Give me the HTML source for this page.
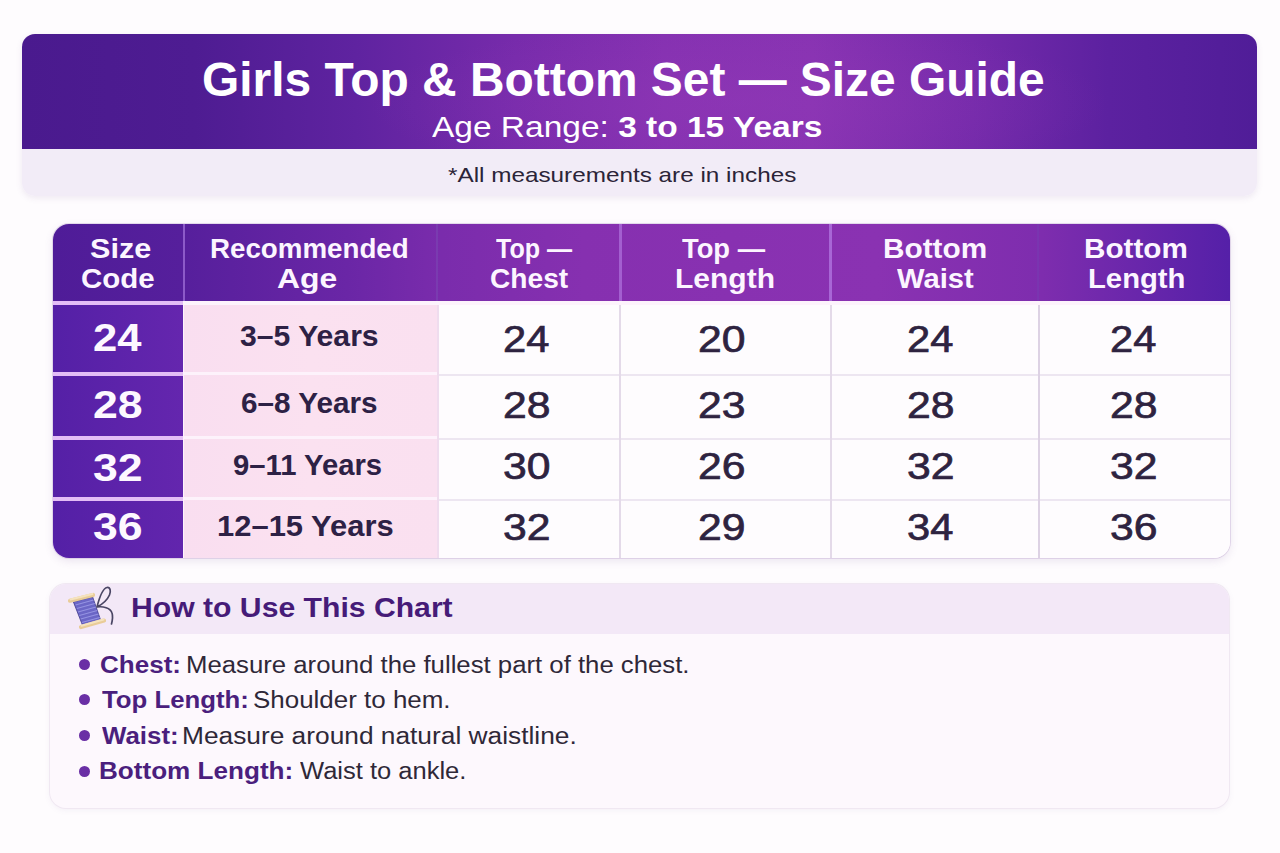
<!DOCTYPE html>
<html><head><meta charset="utf-8">
<style>
html,body{margin:0;padding:0}
body{width:1280px;height:853px;overflow:hidden;position:relative;background:#fefcfe;font-family:"Liberation Sans",sans-serif}
.abs{position:absolute}
.tx{position:absolute;white-space:nowrap;line-height:1;transform-origin:0 0}
.tx b{font-weight:700}
</style></head><body>
<!-- header card -->
<div class="abs" style="left:22px;top:34px;width:1235px;height:162px;border-radius:13px;overflow:hidden;box-shadow:0 2px 6px rgba(120,90,150,0.12)">
  <div class="abs" style="left:0;top:0;width:1235px;height:115px;background:radial-gradient(ellipse 30% 70% at 58% 60%,rgba(150,60,185,0.35),rgba(150,60,185,0) 100%),linear-gradient(90deg,#4a1a8e 0%,#4e1c92 14%,#5f23a0 27%,#772bab 40%,#8531b1 52%,#8833b2 64%,#742aaa 77%,#5c21a0 88%,#501d98 100%)"></div>
  <div class="abs" style="left:0;top:115px;width:1235px;height:47px;background:#f2ecf7"></div>
</div>
<!-- table -->
<div class="abs" style="left:53px;top:224px;width:1177px;height:334px;border-radius:16px;overflow:hidden;background:#fdf3fc;box-shadow:0 0 0 1px rgba(200,180,215,0.45),0 3px 8px rgba(110,80,150,0.14)">
  <div class="abs" style="left:0;top:0;width:1177px;height:77px;background:linear-gradient(90deg,#4f1c98 0%,#561f9c 11%,#6a26a6 25%,#7a2cac 33%,#8630b0 45%,#8a32b2 70%,#7e2dae 84%,#5520a8 100%)"></div>
  <div class="abs" style="left:0;top:77px;width:130px;height:4px;background:#e3bdf6"></div>
  <!-- header dividers -->
  <div class="abs" style="left:130px;top:0;width:2px;height:77px;background:#8c5ac8"></div>
  <div class="abs" style="left:383px;top:0;width:2px;height:77px;background:#7a3bb0"></div>
  <div class="abs" style="left:566px;top:0;width:3px;height:77px;background:#a35fd0"></div>
  <div class="abs" style="left:776px;top:0;width:3px;height:77px;background:#a866d6"></div>
  <div class="abs" style="left:984px;top:0;width:2px;height:77px;background:#7a35b0"></div>
  <!-- size code col -->
  <div class="abs" style="left:0;top:77px;width:130px;height:257px;background:#e3bdf6"></div>
  <div class="abs" style="left:0;top:81px;width:130px;height:67px;background:linear-gradient(90deg,#5420a6,#6526ae)"></div>
  <div class="abs" style="left:0;top:152px;width:130px;height:60px;background:linear-gradient(90deg,#5520a6,#6426ae)"></div>
  <div class="abs" style="left:0;top:216px;width:130px;height:57px;background:linear-gradient(90deg,#5520a6,#6426ae)"></div>
  <div class="abs" style="left:0;top:277px;width:130px;height:57px;background:linear-gradient(90deg,#5420a6,#6225ad)"></div>
  <!-- age col -->
  <div class="abs" style="left:131px;top:81px;width:253px;height:253px;background:linear-gradient(90deg,#f9def0 0%,#fbe1f0 50%,#fae0f0 100%)"></div>
  <div class="abs" style="left:131px;top:148px;width:253px;height:3px;background:#fdf2fb"></div>
  <div class="abs" style="left:131px;top:212px;width:253px;height:3px;background:#fdf2fb"></div>
  <div class="abs" style="left:131px;top:273px;width:253px;height:3px;background:#fdf2fb"></div>
  <!-- data -->
  <div class="abs" style="left:384px;top:81px;width:793px;height:253px;background:#fefcfe"></div>
  <div class="abs" style="left:384px;top:150px;width:793px;height:1.5px;background:#ede6f1"></div>
  <div class="abs" style="left:384px;top:214px;width:793px;height:1.5px;background:#ede6f1"></div>
  <div class="abs" style="left:384px;top:275px;width:793px;height:1.5px;background:#ede6f1"></div>
  <div class="abs" style="left:384px;top:81px;width:1.5px;height:253px;background:#efdcee"></div>
  <div class="abs" style="left:566px;top:81px;width:2px;height:253px;background:#e4dae9"></div>
  <div class="abs" style="left:777px;top:81px;width:2px;height:253px;background:#e4dae9"></div>
  <div class="abs" style="left:985px;top:81px;width:2px;height:253px;background:#ddd2e4"></div>
</div>
<!-- how to card -->
<div class="abs" style="left:50px;top:584px;width:1179px;height:224px;border-radius:16px;overflow:hidden;background:#fdf8fd;box-shadow:0 0 0 1px #f0e8f2,0 2px 6px rgba(120,90,150,0.08)">
  <div class="abs" style="left:0;top:0;width:1179px;height:50px;background:#f3e8f7"></div>
</div>
<!-- bullets -->
<div class="abs" style="left:79px;top:659px;width:11px;height:11px;border-radius:50%;background:#6a2fa5"></div>
<div class="abs" style="left:79px;top:694px;width:11px;height:11px;border-radius:50%;background:#6a2fa5"></div>
<div class="abs" style="left:79px;top:730px;width:11px;height:11px;border-radius:50%;background:#6a2fa5"></div>
<div class="abs" style="left:79px;top:766px;width:11px;height:11px;border-radius:50%;background:#6a2fa5"></div>
<!-- spool icon -->
<svg class="abs" style="left:60px;top:582px" width="60" height="52" viewBox="0 0 60 52">
  <polygon points="13.4,19.9 32.6,14.8 40.8,38.6 22.8,44" fill="#6b66c6" stroke="#3f3a8a" stroke-width="0.8"/>
  <g stroke="#9a98e6" stroke-width="1.1" opacity="0.9">
    <line x1="15.5" y1="23" x2="33.5" y2="18"/>
    <line x1="16.8" y1="26.5" x2="34.8" y2="21.5"/>
    <line x1="18" y1="30" x2="36" y2="25"/>
    <line x1="19.3" y1="33.5" x2="37.3" y2="28.5"/>
    <line x1="20.6" y1="37" x2="38.6" y2="32"/>
    <line x1="21.8" y1="40.5" x2="39.8" y2="35.5"/>
  </g>
  <line x1="10" y1="18.7" x2="33" y2="13" stroke="#e9cc98" stroke-width="4.2" stroke-linecap="round"/>
  <line x1="10.5" y1="17.5" x2="32.5" y2="12" stroke="#f5e3bf" stroke-width="2" stroke-linecap="round"/>
  <line x1="21" y1="45" x2="44" y2="38.6" stroke="#e9cc98" stroke-width="4.2" stroke-linecap="round"/>
  <line x1="21.5" y1="43.8" x2="43.5" y2="37.5" stroke="#f5e3bf" stroke-width="2" stroke-linecap="round"/>
  <path d="M37 25 C39 17 42.5 6.5 47 5.5 C50.5 5 51 9.5 49.5 13 C47 18.5 41 23 37 25 C43 24 50.5 26 52 31 C53 34 52.5 38 51.5 42" fill="none" stroke="#4a4664" stroke-width="1.7" stroke-linecap="round"/>
</svg>
<div class="tx" style="left:201.98px;top:55.79px;font-size:47.5px;font-weight:700;color:#ffffff;transform:scaleX(1.0084)">Girls Top &amp; Bottom Set — Size Guide</div>
<div class="tx" style="left:431.50px;top:112.30px;font-size:30px;font-weight:400;color:#ffffff;transform:scaleX(1.1160)">Age Range: <b>3 to 15 Years</b></div>
<div class="tx" style="left:447.84px;top:164.22px;font-size:21px;font-weight:400;color:#2b2438;transform:scaleX(1.1567)">*All measurements are in inches</div>
<div class="tx" style="left:89.91px;top:235.30px;font-size:28px;font-weight:700;color:#fcf5ff;transform:scaleX(1.0926)">Size</div>
<div class="tx" style="left:81.45px;top:265.30px;font-size:28px;font-weight:700;color:#fcf5ff;transform:scaleX(1.0515)">Code</div>
<div class="tx" style="left:210.02px;top:235.30px;font-size:28px;font-weight:700;color:#fcf5ff;transform:scaleX(0.9898)">Recommended</div>
<div class="tx" style="left:276.86px;top:265.30px;font-size:28px;font-weight:700;color:#fcf5ff;transform:scaleX(1.1373)">Age</div>
<div class="tx" style="left:495.80px;top:235.30px;font-size:28px;font-weight:700;color:#fcf5ff;transform:scaleX(0.8953)">Top —</div>
<div class="tx" style="left:489.59px;top:265.30px;font-size:28px;font-weight:700;color:#fcf5ff;transform:scaleX(1.0052)">Chest</div>
<div class="tx" style="left:682.00px;top:235.30px;font-size:28px;font-weight:700;color:#fcf5ff;transform:scaleX(0.9765)">Top —</div>
<div class="tx" style="left:675.46px;top:265.30px;font-size:28px;font-weight:700;color:#fcf5ff;transform:scaleX(1.0711)">Length</div>
<div class="tx" style="left:882.87px;top:235.30px;font-size:28px;font-weight:700;color:#fcf5ff;transform:scaleX(1.0638)">Bottom</div>
<div class="tx" style="left:897.00px;top:265.30px;font-size:28px;font-weight:700;color:#fcf5ff;transform:scaleX(1.0411)">Waist</div>
<div class="tx" style="left:1083.88px;top:235.30px;font-size:28px;font-weight:700;color:#fcf5ff;transform:scaleX(1.0596)">Bottom</div>
<div class="tx" style="left:1087.91px;top:265.30px;font-size:28px;font-weight:700;color:#fcf5ff;transform:scaleX(1.0444)">Length</div>
<div class="tx" style="left:93.35px;top:319.43px;font-size:38px;font-weight:700;color:#fdf8ff;transform:scaleX(1.1463)">24</div>
<div class="tx" style="left:93.33px;top:386.33px;font-size:38px;font-weight:700;color:#fdf8ff;transform:scaleX(1.1750)">28</div>
<div class="tx" style="left:93.33px;top:449.33px;font-size:38px;font-weight:700;color:#fdf8ff;transform:scaleX(1.1750)">32</div>
<div class="tx" style="left:93.33px;top:507.83px;font-size:38px;font-weight:700;color:#fdf8ff;transform:scaleX(1.1750)">36</div>
<div class="tx" style="left:240.29px;top:320.91px;font-size:30px;font-weight:700;color:#2d2145;transform:scaleX(1.0051)">3–5 Years</div>
<div class="tx" style="left:241.01px;top:388.36px;font-size:30px;font-weight:700;color:#2d2145;transform:scaleX(0.9897)">6–8 Years</div>
<div class="tx" style="left:232.83px;top:450.31px;font-size:30px;font-weight:700;color:#2d2145;transform:scaleX(0.9748)">9–11 Years</div>
<div class="tx" style="left:216.94px;top:511.21px;font-size:30px;font-weight:700;color:#2d2145;transform:scaleX(1.0315)">12–15 Years</div>
<div class="tx" style="left:502.88px;top:320.68px;font-size:37px;font-weight:400;color:#2e2340;-webkit-text-stroke:0.7px #2e2340;transform:scaleX(1.1250)">24</div>
<div class="tx" style="left:698.35px;top:320.68px;font-size:37px;font-weight:400;color:#2e2340;-webkit-text-stroke:0.7px #2e2340;transform:scaleX(1.1538)">20</div>
<div class="tx" style="left:906.88px;top:320.68px;font-size:37px;font-weight:400;color:#2e2340;-webkit-text-stroke:0.7px #2e2340;transform:scaleX(1.1250)">24</div>
<div class="tx" style="left:1110.38px;top:320.68px;font-size:37px;font-weight:400;color:#2e2340;-webkit-text-stroke:0.7px #2e2340;transform:scaleX(1.1250)">24</div>
<div class="tx" style="left:502.85px;top:387.18px;font-size:37px;font-weight:400;color:#2e2340;-webkit-text-stroke:0.7px #2e2340;transform:scaleX(1.1538)">28</div>
<div class="tx" style="left:698.35px;top:387.18px;font-size:37px;font-weight:400;color:#2e2340;-webkit-text-stroke:0.7px #2e2340;transform:scaleX(1.1538)">23</div>
<div class="tx" style="left:906.85px;top:387.18px;font-size:37px;font-weight:400;color:#2e2340;-webkit-text-stroke:0.7px #2e2340;transform:scaleX(1.1538)">28</div>
<div class="tx" style="left:1110.35px;top:387.18px;font-size:37px;font-weight:400;color:#2e2340;-webkit-text-stroke:0.7px #2e2340;transform:scaleX(1.1538)">28</div>
<div class="tx" style="left:502.85px;top:448.18px;font-size:37px;font-weight:400;color:#2e2340;-webkit-text-stroke:0.7px #2e2340;transform:scaleX(1.1538)">30</div>
<div class="tx" style="left:698.35px;top:448.18px;font-size:37px;font-weight:400;color:#2e2340;-webkit-text-stroke:0.7px #2e2340;transform:scaleX(1.1538)">26</div>
<div class="tx" style="left:906.85px;top:448.18px;font-size:37px;font-weight:400;color:#2e2340;-webkit-text-stroke:0.7px #2e2340;transform:scaleX(1.1538)">32</div>
<div class="tx" style="left:1110.35px;top:448.18px;font-size:37px;font-weight:400;color:#2e2340;-webkit-text-stroke:0.7px #2e2340;transform:scaleX(1.1538)">32</div>
<div class="tx" style="left:502.85px;top:508.68px;font-size:37px;font-weight:400;color:#2e2340;-webkit-text-stroke:0.7px #2e2340;transform:scaleX(1.1538)">32</div>
<div class="tx" style="left:698.35px;top:508.68px;font-size:37px;font-weight:400;color:#2e2340;-webkit-text-stroke:0.7px #2e2340;transform:scaleX(1.1538)">29</div>
<div class="tx" style="left:906.88px;top:508.68px;font-size:37px;font-weight:400;color:#2e2340;-webkit-text-stroke:0.7px #2e2340;transform:scaleX(1.1250)">34</div>
<div class="tx" style="left:1110.35px;top:508.68px;font-size:37px;font-weight:400;color:#2e2340;-webkit-text-stroke:0.7px #2e2340;transform:scaleX(1.1538)">36</div>
<div class="tx" style="left:130.77px;top:595.14px;font-size:27px;font-weight:700;color:#461b78;transform:scaleX(1.1168)">How to Use This Chart</div>
<div class="tx" style="left:100.37px;top:653.53px;font-size:23px;font-weight:700;color:#4b1f7d;transform:scaleX(1.1319)">Chest:</div>
<div class="tx" style="left:185.76px;top:653.53px;font-size:23px;font-weight:400;color:#2f2838;transform:scaleX(1.1188)">Measure around the fullest part of the chest.</div>
<div class="tx" style="left:101.50px;top:688.83px;font-size:23px;font-weight:700;color:#4b1f7d;transform:scaleX(1.1202)">Top Length:</div>
<div class="tx" style="left:252.87px;top:688.83px;font-size:23px;font-weight:400;color:#2f2838;transform:scaleX(1.1279)">Shoulder to hem.</div>
<div class="tx" style="left:101.50px;top:724.93px;font-size:23px;font-weight:700;color:#4b1f7d;transform:scaleX(1.1242)">Waist:</div>
<div class="tx" style="left:182.41px;top:724.93px;font-size:23px;font-weight:400;color:#2f2838;transform:scaleX(1.1434)">Measure around natural waistline.</div>
<div class="tx" style="left:99.23px;top:760.33px;font-size:23px;font-weight:700;color:#4b1f7d;transform:scaleX(1.1347)">Bottom Length:</div>
<div class="tx" style="left:299.50px;top:760.33px;font-size:23px;font-weight:400;color:#2f2838;transform:scaleX(1.1095)">Waist to ankle.</div>
</body></html>
